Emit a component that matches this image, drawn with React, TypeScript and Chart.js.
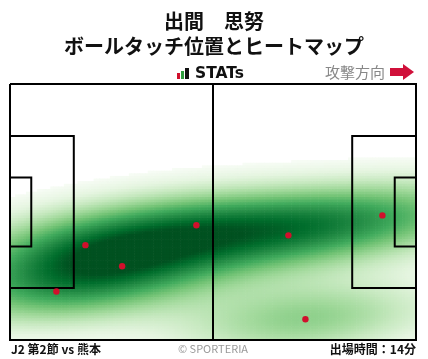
import React, { useEffect, useRef } from "react";
import { Chart, registerables } from "chart.js";
Chart.register(...registerables);

// ---- data ----
const PITCH_LENGTH = 105;
const PITCH_WIDTH = 68;
// ball touch positions (metres, x from own goal line, y from top touchline)
const touchX = [48.2, 19.5, 29.0, 12.0, 72.0, 96.3, 76.4];
const touchY = [37.5, 42.8, 48.4, 55.1, 40.2, 34.9, 62.5];

const titleLines = ["出間　思努", "ボールタッチ位置とヒートマップ"];
const brandLabel = "STATs";
const directionLabel = "攻撃方向";
const matchLabel = "J2 第2節 vs 熊本";
const creditLabel = "© SPORTERIA";
const minutesLabel = "出場時間：14分";

const PENALTY_DEPTH = 16.5;
const PENALTY_WIDTH = 40.32;
const GOAL_AREA_DEPTH = 5.5;
const GOAL_AREA_WIDTH = 18.32;

const GRID_STEP = 0.7;
const THRESH = 0.045;
const TOP_FRACTION = 0.88;
const GAMMA = 0.85;

// ---- helpers ----
const GREENS = [
  [247, 252, 245],
  [229, 245, 224],
  [199, 233, 192],
  [161, 217, 155],
  [116, 196, 118],
  [65, 171, 93],
  [35, 139, 69],
  [0, 109, 44],
  [0, 68, 27],
];
function greens(t: number): string {
  const v = Math.max(0, Math.min(1, t)) * (GREENS.length - 1);
  const i = Math.min(GREENS.length - 2, Math.floor(v));
  const f = v - i;
  const a = GREENS[i], b = GREENS[i + 1];
  const c = a.map((ch, k) => Math.round(ch + (b[k] - ch) * f));
  return `rgb(${c[0]},${c[1]},${c[2]})`;
}

function buildHeat() {
  const n = touchX.length;
  const mx = touchX.reduce((s, v) => s + v, 0) / n;
  const my = touchY.reduce((s, v) => s + v, 0) / n;
  let sxx = 0, syy = 0, sxy = 0;
  for (let i = 0; i < n; i++) {
    const dx = touchX[i] - mx, dy = touchY[i] - my;
    sxx += dx * dx; syy += dy * dy; sxy += dx * dy;
  }
  const f2 = Math.pow(n, -2 / 6);
  const cxx = (sxx / (n - 1)) * f2, cyy = (syy / (n - 1)) * f2, cxy = (sxy / (n - 1)) * f2;
  const det = cxx * cyy - cxy * cxy;
  const ixx = cyy / det, iyy = cxx / det, ixy = -cxy / det;
  const dens = (x: number, y: number) => {
    let s = 0;
    for (let i = 0; i < n; i++) {
      const dx = x - touchX[i], dy = y - touchY[i];
      s += Math.exp(-0.5 * (dx * dx * ixx + 2 * dx * dy * ixy + dy * dy * iyy));
    }
    return s;
  };
  const cells: { x: number; y: number; d: number }[] = [];
  let max = 0;
  for (let x = GRID_STEP / 2; x < PITCH_LENGTH; x += GRID_STEP) {
    for (let y = GRID_STEP / 2; y < PITCH_WIDTH; y += GRID_STEP) {
      const d = dens(x, y);
      if (d > max) max = d;
      cells.push({ x, y, d });
    }
  }
  const lo = THRESH * max;
  const pts: { x: number; y: number }[] = [];
  const cols: string[] = [];
  for (const c of cells) {
    if (c.d < lo) continue;
    pts.push({ x: c.x, y: c.y });
    const v = Math.min(1, (c.d - lo) / (TOP_FRACTION * (max - lo)));
    cols.push(greens(Math.pow(v, GAMMA) * 0.96));
  }
  return { pts, cols };
}

function lineSet(points: number[][]) {
  return {
    type: "line" as const,
    data: points.map(([x, y]) => ({ x, y })),
    borderColor: "#000",
    borderWidth: 2,
    pointRadius: 0,
    fill: false,
    tension: 0,
    clip: false as any,
    order: 1,
  };
}

const textPlugin = {
  id: "texts",
  afterDraw(chart: any) {
    const ctx = chart.ctx as CanvasRenderingContext2D;
    ctx.save();
    const jp = '"Noto Sans CJK JP", "Noto Sans", sans-serif';
    ctx.fillStyle = "#111";
    ctx.textAlign = "center";
    ctx.textBaseline = "middle";
    ctx.font = `bold 20px ${jp}`;
    ctx.fillText(titleLines[0], 214, 21);
    ctx.fillText(titleLines[1], 214, 46.5);

    // brand logo
    ctx.fillStyle = "#d0102c";
    ctx.fillRect(177, 73, 3, 6);
    ctx.fillStyle = "#2e9e3e";
    ctx.fillRect(181, 71, 3, 8);
    ctx.fillStyle = "#111";
    ctx.fillRect(185, 68, 4, 11);
    ctx.textAlign = "left";
    ctx.font = `bold 15.5px "DejaVu Sans", sans-serif`;
    ctx.fillText(brandLabel, 195, 74);

    // direction
    ctx.fillStyle = "#888";
    ctx.font = `15px ${jp}`;
    ctx.textAlign = "right";
    ctx.fillText(directionLabel, 385, 72.5);
    ctx.fillStyle = "#d0103a";
    ctx.beginPath();
    ctx.moveTo(390, 68);
    ctx.lineTo(403, 68);
    ctx.lineTo(403, 64);
    ctx.lineTo(414, 72);
    ctx.lineTo(403, 80);
    ctx.lineTo(403, 76);
    ctx.lineTo(390, 76);
    ctx.closePath();
    ctx.fill();

    // footer
    ctx.fillStyle = "#111";
    ctx.font = `bold 12px ${jp}`;
    ctx.textAlign = "left";
    ctx.fillText(matchLabel, 11, 349);
    ctx.textAlign = "right";
    ctx.fillText(minutesLabel, 416, 349);
    ctx.fillStyle = "#999";
    ctx.font = `11px ${jp}`;
    ctx.textAlign = "center";
    ctx.fillText(creditLabel, 213, 349);
    ctx.restore();
  },
};

export default function App() {
  const ref = useRef<HTMLCanvasElement>(null);
  useEffect(() => {
    if (!ref.current) return;
    const heat = buildHeat();
    const L = PITCH_LENGTH, W = PITCH_WIDTH, cy = W / 2;
    const pw = PENALTY_WIDTH / 2, gw = GOAL_AREA_WIDTH / 2;
    const chart = new Chart(ref.current, {
      type: "scatter",
      data: {
        datasets: [
          {
            data: touchX.map((x, i) => ({ x, y: touchY[i] })),
            backgroundColor: "#d0102c",
            borderWidth: 0,
            pointRadius: 3.2,
            order: 0,
          } as any,
          lineSet([[0, 0], [L, 0], [L, W], [0, W], [0, 0]]),
          lineSet([[L / 2, 0], [L / 2, W]]),
          lineSet([[0, cy - pw], [PENALTY_DEPTH, cy - pw], [PENALTY_DEPTH, cy + pw], [0, cy + pw]]),
          lineSet([[0, cy - gw], [GOAL_AREA_DEPTH, cy - gw], [GOAL_AREA_DEPTH, cy + gw], [0, cy + gw]]),
          lineSet([[L, cy - pw], [L - PENALTY_DEPTH, cy - pw], [L - PENALTY_DEPTH, cy + pw], [L, cy + pw]]),
          lineSet([[L, cy - gw], [L - GOAL_AREA_DEPTH, cy - gw], [L - GOAL_AREA_DEPTH, cy + gw], [L, cy + gw]]),
          {
            data: heat.pts,
            pointStyle: "rect",
            pointRadius: (GRID_STEP * 3.9 + 0.6) / Math.SQRT2,
            backgroundColor: heat.cols,
            borderWidth: 0,
            order: 2,
          } as any,
        ],
      },
      options: {
        animation: false,
        responsive: true,
        maintainAspectRatio: false,
        events: [],
        layout: { padding: { left: 10, right: 12, top: 84, bottom: 19 } },
        plugins: { legend: { display: false }, tooltip: { enabled: false }, title: { display: false } },
        scales: {
          x: { type: "linear", min: 0, max: PITCH_LENGTH, display: false },
          y: { type: "linear", min: 0, max: PITCH_WIDTH, reverse: true, display: false },
        },
      },
      plugins: [textPlugin],
    });
    return () => chart.destroy();
  }, []);
  return (
    <div style={{ position: "absolute", left: 0, top: 0, width: 428, height: 359, background: "#fff" }}>
      <canvas ref={ref} />
    </div>
  );
}
